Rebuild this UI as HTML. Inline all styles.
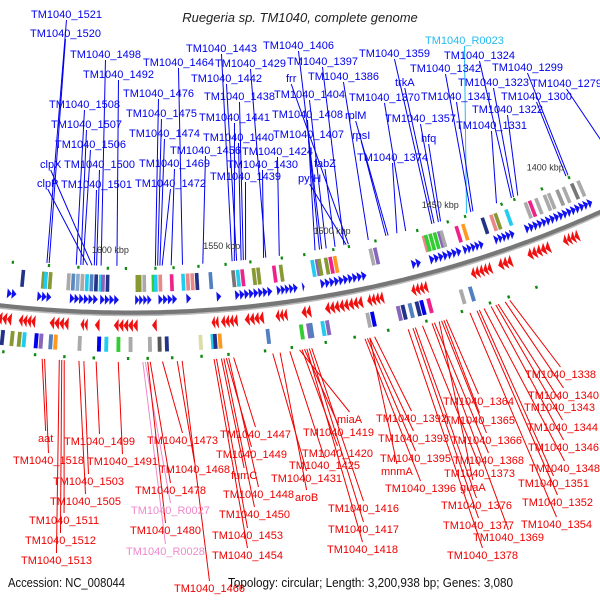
<!DOCTYPE html>
<html><head><meta charset="utf-8">
<style>
html,body{margin:0;padding:0;background:#fff;}
svg{display:block;font-family:"Liberation Sans","DejaVu Sans",sans-serif;}
</style></head>
<body>
<svg id="chart" width="600" height="600" viewBox="0 0 600 600" xmlns="http://www.w3.org/2000/svg">
<rect width="600" height="600" fill="#fff"/>
<text x="300" y="22" text-anchor="middle" font-size="13" font-style="italic" fill="#222">Ruegeria sp. TM1040, complete genome</text>
<g id="lines"></g>
<g id="features"></g>
<g id="labels"></g>
<text x="8" y="587" font-size="12.5" fill="#111" textLength="117" lengthAdjust="spacingAndGlyphs">Accession: NC_008044</text>
<text x="228" y="587" font-size="12.5" fill="#111" textLength="285" lengthAdjust="spacingAndGlyphs">Topology: circular; Length: 3,200,938 bp; Genes: 3,080</text>
</svg>
<script>
// ---- data ----
const tickKbp = [1600, 1550, 1500, 1450, 1400];
const fwdClusters = [[1644,1640],[1631,1625],[1617,1605],[1604,1596],[1589,1582],[1579,1571],[1567,1565],[1554,1552],[1546,1530],[1528,1519],[1517,1516],[1509,1489],[1469,1465],[1461,1447],[1446,1437],[1432,1423],[1418,1387]];
const revClusters = [[1649,1641],[1638,1631],[1625,1617],[1612,1609],[1606,1604],[1598,1588],[1582,1580],[1557,1554],[1553,1546],[1543,1535],[1530,1525],[1519,1515],[1509,1493],[1491,1484],[1472,1465],[1446,1437],[1434,1428],[1421,1411],[1405,1398]];
const fwdBoxKbp = [1638,1629,1628,1626,1618,1616,1614,1612,1610,1608,1606,1604,1603,1601,1588,1587,1585,1581,1580,1578,1573,1568,1566,1564,1562,1556,1546,1544,1542,1537,1535,1528,1525,1511,1509,1508,1505,1503,1501,1485,1483,1461,1460,1458,1456,1454,1453,1446,1443,1434,1430,1428,1423,1414,1412,1409,1405,1403,1399,1396,1392,1389];
const fwdBoxColor = ["#223388","#889933","#22ccee","#889933","#aaaaaa","#5a8ac0","#88aacc","#aaaaaa","#22ccee","#5080c0","#223388","#22ccee","#8866bb","#223388","#889933","#889933","#aaaaaa","#33cc33","#22ccee","#e88888","#ee2288","#22ccee","#e88888","#e88888","#223388","#5080c0","#777777","#22ccee","#ee2288","#889933","#889933","#ee2288","#889933","#22ccee","#8866bb","#889933","#889933","#ee2288","#ff9922","#aaaaaa","#8866bb","#e88888","#33cc33","#33cc33","#33cc33","#8866bb","#aaaaaa","#ee2288","#ff9922","#223388","#e88888","#889933","#22ccee","#aaaaaa","#ee2288","#aaaaaa","#aaaaaa","#aaaaaa","#999999","#aaaaaa","#777777","#aaaaaa"];
const revBoxKbp = [1646,1644,1640,1637,1635,1630,1628,1624,1622,1612,1604,1601,1596,1591,1583,1579,1576,1562,1557,1556,1554,1534,1520,1517,1516,1511,1509,1492,1490,1479,1477,1474,1471,1469,1466,1452,1448];
const revBoxColor = ["#22ccee","#223388","#889933","#889933","#22ccee","#0000ee","#8866bb","#5080c0","#ff9922","#aaaaaa","#0000ee","#22ccee","#33cc33","#aaaaaa","#aaaaaa","#555555","#223388","#ddddaa","#22ccee","#223388","#ff9922","#5080c0","#33cc33","#8866bb","#5080c0","#22ccee","#8866bb","#aaaaaa","#0000ee","#8866bb","#223388","#5080c0","#223388","#0000ee","#ee2288","#aaaaaa","#5080c0"];
const dotTopKbp = [1643,1627,1614,1601,1593,1580,1572,1561,1549,1538,1524,1514,1501,1494,1482,1463,1449,1441,1424,1418,1405,1392];
const dotBotKbp = [1643,1630,1618,1606,1592,1584,1574,1562,1551,1536,1525,1511,1499,1485,1469,1454,1442,1434,1422];
const blueNames = ["TM1040_1521","TM1040_1520","TM1040_1498","TM1040_1492","TM1040_1508","TM1040_1507","TM1040_1506","clpX","TM1040_1500","clpP","TM1040_1501","TM1040_1476","TM1040_1475","TM1040_1474","TM1040_1469","TM1040_1472","TM1040_1443","TM1040_1464","TM1040_1442","TM1040_1429","TM1040_1438","TM1040_1441","TM1040_1440","TM1040_1456","TM1040_1430","TM1040_1424","TM1040_1439","TM1040_1406","TM1040_1397","frr","TM1040_1386","TM1040_1404","TM1040_1408","rplM","TM1040_1407","rpsI","fabZ","pyrH","TM1040_1374","TM1040_1359","trkA","TM1040_1370","TM1040_1357","hfq","TM1040_R0023","TM1040_1324","TM1040_1342","TM1040_1323","TM1040_1341","TM1040_1322","TM1040_1331","TM1040_1299","TM1040_1279","TM1040_1300"];
const blueKbp = [1628,1627,1604,1597,1615,1613,1612,1608,1606,1610,1607,1580,1579,1578,1573,1577,1546,1568,1544,1531,1541,1545,1542,1559,1532,1525,1540,1506,1496,1494,1485,1504,1509,1476,1507,1477,1500,1495,1472,1456,1455,1468,1453,1452,1440,1419,1438,1418,1437,1416,1426,1392,1371,1393];
const redNames = ["aat","TM1040_1499","TM1040_1518","TM1040_1491","TM1040_1503","TM1040_1505","TM1040_1511","TM1040_1512","TM1040_1513","TM1040_1473","TM1040_1468","TM1040_1478","TM1040_R0027","TM1040_1480","TM1040_R0028","TM1040_1466","TM1040_1447","TM1040_1449","fumC","TM1040_1448","TM1040_1450","TM1040_1453","TM1040_1454","aroB","TM1040_1419","miaA","TM1040_1420","TM1040_1425","TM1040_1431","TM1040_1416","TM1040_1417","TM1040_1418","TM1040_1392","TM1040_1393","TM1040_1395","mnmA","TM1040_1396","TM1040_1364","TM1040_1365","TM1040_1366","TM1040_1368","guaA","TM1040_1373","TM1040_1376","TM1040_1377","TM1040_1369","TM1040_1378","TM1040_1338","TM1040_1340","TM1040_1343","TM1040_1344","TM1040_1346","TM1040_1348","TM1040_1351","TM1040_1352","TM1040_1354"];
const redKbp = [1627,1605,1626,1596,1610,1612,1618,1619,1620,1578,1572,1583,1585,1584,1586,1570,1549,1552,1554,1551,1553,1556,1557,1530,1520,1522,1521,1526,1533,1517,1518,1519,1491,1493,1494,1493,1495,1461,1462,1463,1466,1464,1471,1474,1475,1467,1477,1434,1436,1439,1440,1442,1445,1447,1448,1451];
// label placement (layout, not data): [left x, centre y]
const blueLayout = [[31,14],[30,33],[70,54],[83,74],[49,104],[51,124],[55,144],[40,164],[64,164],[37,183],[61,184],[123,93],[126,113],[129,133],[139,163],[135,183],[186,48],[143,62],[191,78],[215,63],[204,96],[199,117],[203,137],[170,150],[227,164],[242,151],[210,176],[263,45],[287,61],[286,78],[308,76],[274,94],[272,114],[345,115],[273,134],[352,135],[314,163],[298,178],[357,157],[359,53],[395,82],[349,97],[385,118],[421,138],[425,40],[444,55],[410,68],[458,82],[421,96],[472,109],[456,125],[492,67],[531,83],[501,96]];
const redLayout = [[38,438],[64,441],[13,460],[87,461],[53,481],[50,501],[29,520],[25,540],[21,560],[147,440],[159,469],[135,490],[131,510],[130,530],[126,551],[174,588],[220,434],[216,454],[231,475],[223,494],[219,514],[212,535],[212,555],[295,497],[303,432],[337,419],[302,453],[289,465],[271,478],[328,508],[328,529],[327,549],[376,418],[378,438],[380,458],[381,471],[385,488],[443,401],[444,420],[451,440],[453,460],[460,487],[444,473],[441,505],[443,525],[473,537],[447,555],[525,374],[528,395],[524,407],[527,427],[528,447],[529,468],[518,483],[522,502],[521,524]];

// ---- scales ----
// circle centre above the visible arc; "R+off" means off pixels above (toward centre) the backbone
const CX = 130, CY = 313 - 1150, R = 1150, TH0 = -0.018, RAD_PER_KBP = 0.00205;
function ang(k){ return TH0 + (1600 - k) * RAD_PER_KBP; }
function pt(r, k){ const t = ang(k); const rr = 2*R - r; return [CX + rr*Math.sin(t), CY + rr*Math.cos(t)]; }
const NS = "http://www.w3.org/2000/svg";
function mk(tag, parent){ const e = document.createElementNS(NS, tag); parent.appendChild(e); return e; }
const gF = document.getElementById('features'), gL = document.getElementById('lines'), gT = document.getElementById('labels');

// backbone
(function(){
  let d = '';
  for (let k = 1670; k >= 1340; k -= 2){ const p = pt(R, k); d += (d ? 'L' : 'M') + p[0].toFixed(1) + ',' + p[1].toFixed(1); }
  const b = mk('path', gF); b.setAttribute('d', d); b.setAttribute('fill','none'); b.setAttribute('stroke','#777'); b.setAttribute('stroke-width','5');
  
  
  const b2 = mk('path', gF); b2.setAttribute('d', d); b2.setAttribute('fill','none'); b2.setAttribute('stroke','#bbb'); b2.setAttribute('stroke-width','1.5'); b2.setAttribute('transform','translate(0,2.5)');
  
  
})();

function poly(points, fill, parent){ const p = mk('polygon', parent); p.setAttribute('points', points.map(q => q[0].toFixed(1)+','+q[1].toFixed(1)).join(' ')); p.setAttribute('fill', fill); return p; }

// forward arrows
fwdClusters.forEach(function(c){
  const n = Math.max(1, Math.round((c[0]-c[1]) / 2)), step = (c[0]-c[1]) / n;
  for (let i = 0; i < n; i++){
    const a = c[0] - i*step, b = a - step;
    const e = poly([pt(R+8, a), pt(R+18, a), pt(R+13, b)], '#1010f0', gF);
    
    
  }
});
// reverse arrows
revClusters.forEach(function(c){
  const n = Math.max(1, Math.round((c[0]-c[1]) / 2)), step = (c[0]-c[1]) / n;
  for (let i = 0; i < n; i++){
    const a = c[0] - i*step, b = a - step;
    const e = poly([pt(R-6, b), pt(R-19, b), pt(R-12.5, a)], '#f01010', gF);
    
    
  }
});
// feature boxes
fwdBoxKbp.forEach(function(k, i){
  const e = poly([pt(R+21, k+0.8), pt(R+38, k+0.8), pt(R+38, k-0.8), pt(R+21, k-0.8)], fwdBoxColor[i], gF);
  
  
});
revBoxKbp.forEach(function(k, i){
  const e = poly([pt(R-24, k+0.8), pt(R-39, k+0.8), pt(R-39, k-0.8), pt(R-24, k-0.8)], revBoxColor[i], gF);
  
  
});
// green dots
dotTopKbp.forEach(function(k){
  const e = poly([pt(R+43, k+0.5), pt(R+46, k+0.5), pt(R+46, k-0.5), pt(R+43, k-0.5)], '#118811', gF);
  
  
});
dotBotKbp.forEach(function(k){
  const e = poly([pt(R-44, k+0.5), pt(R-47, k+0.5), pt(R-47, k-0.5), pt(R-44, k-0.5)], '#118811', gF);
  
  
});
// ticks
tickKbp.forEach(function(k){
  const p = pt(R+63, k);
  const t = mk('text', gF); t.setAttribute('x', p[0]); t.setAttribute('y', p[1]+3); t.setAttribute('text-anchor','middle'); t.setAttribute('font-size','9'); t.setAttribute('fill','#333');
  t.textContent = k + ' kbp';
  
  
});

function label(name, k, xy, blue){
  let col = blue ? '#0000ee' : '#ee0000';
  if (name.indexOf('R00') >= 0) col = blue ? '#22bbee' : '#ee88cc';
  const t = mk('text', gT); t.setAttribute('x', xy[0]); t.setAttribute('y', xy[1]+4); t.setAttribute('font-size','11'); t.setAttribute('fill', col);
  t.textContent = name;
  
  
  const w = t.getComputedTextLength();
  const ax = xy[0] + w/2;
  const ay = blue ? xy[1] + 6 : xy[1] - 7;
  const p = pt(blue ? R+47 : R-49, k);
  const l = mk('line', gL); l.setAttribute('x1', ax); l.setAttribute('y1', ay); l.setAttribute('x2', p[0]); l.setAttribute('y2', p[1]);
  l.setAttribute('stroke', col); l.setAttribute('stroke-width', '1');
  
  
}
blueNames.forEach(function(n, i){ label(n, blueKbp[i], blueLayout[i], true); });
redNames.forEach(function(n, i){ label(n, redKbp[i], redLayout[i], false); });
</script>
</body></html>
